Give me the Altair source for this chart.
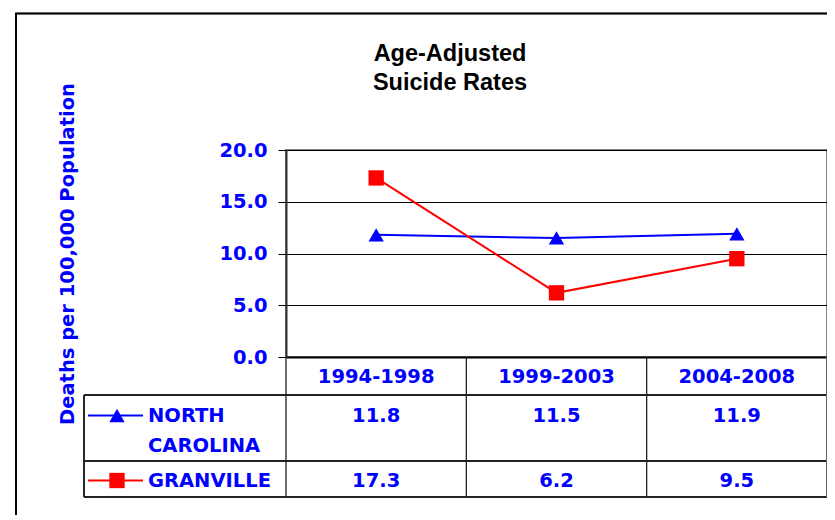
import altair as alt
import pandas as pd

periods = ["1994-1998", "1999-2003", "2004-2008"]
series = ["NORTH CAROLINA", "GRANVILLE"]
nc_values = [11.8, 11.5, 11.9]
granville_values = [17.3, 6.2, 9.5]
y_ticks = [0, 5, 10, 15, 20]
title_lines = ["Age-Adjusted", "Suicide Rates"]
y_title = "Deaths per 100,000 Population"

rows = []
for p, v in zip(periods, nc_values):
    rows.append({"period": p, "series": series[0], "value": v})
for p, v in zip(periods, granville_values):
    rows.append({"period": p, "series": series[1], "value": v})
df = pd.DataFrame(rows)
series_df = pd.DataFrame({"series": series})
period_df = pd.DataFrame({"period": periods})

BLUE = "#0000FF"
RED = "#FF0000"
FONT = "DejaVu Sans"
FS = 19.5
W, H = 541, 207

color_scale = alt.Scale(domain=series, range=[BLUE, RED])
shape_scale = alt.Scale(domain=series, range=["triangle-up", "square"])
x_scale = alt.Scale(domain=periods, paddingInner=0, paddingOuter=0)
y_scale = alt.Scale(domain=[0, 20], nice=False)

x_axis = alt.Axis(title=None, labelAngle=0, ticks=False, domain=True,
                  domainColor="#000000", domainWidth=2,
                  labelFont=FONT, labelFontSize=FS, labelFontWeight="bold",
                  labelColor=BLUE, labelPadding=10, grid=False)
y_axis = alt.Axis(values=y_ticks, format=".1f", title=y_title,
                  titleFont=FONT, titleFontSize=FS, titleFontWeight="bold",
                  titleColor=BLUE, titleAngle=-90, titleX=-213, titleY=H / 2,
                  titleBaseline="alphabetic", titleAlign="center",
                  labelFont=FONT, labelFontSize=FS, labelFontWeight="bold",
                  labelColor=BLUE, labelPadding=11,
                  tickSize=8, tickColor="#000000", tickWidth=1,
                  domainColor="#303030", domainWidth=2,
                  grid=True, gridColor="#000000", gridWidth=1)

base = alt.Chart(df)

lines = base.mark_line(strokeWidth=2).encode(
    x=alt.X("period:N", sort=periods, scale=x_scale, axis=x_axis),
    y=alt.Y("value:Q", scale=y_scale, axis=y_axis),
    color=alt.Color("series:N", scale=color_scale, legend=None),
)
points = base.mark_point(filled=True, opacity=1, size=235).encode(
    x=alt.X("period:N", sort=periods, scale=x_scale),
    y=alt.Y("value:Q", scale=y_scale),
    color=alt.Color("series:N", scale=color_scale, legend=None),
    shape=alt.Shape("series:N", scale=shape_scale, legend=None),
)

# table grid
LINE = "#202020"
hlines = []
for yy in [245, 311, 347]:
    hlines.append(alt.Chart(period_df).mark_rule(color=LINE, strokeWidth=1.3).encode(
        x=alt.value(-202), x2=alt.value(W), y=alt.value(yy)))
vsep = alt.Chart(period_df).mark_rule(color=LINE, strokeWidth=1.3).encode(
    x=alt.X("period:N", sort=periods, scale=x_scale, bandPosition=0),
    y=alt.value(H), y2=alt.value(347))
vright = alt.Chart(period_df).mark_rule(color="#606060", strokeWidth=2).encode(
    x=alt.value(W), y=alt.value(H), y2=alt.value(347))
vleft = alt.Chart(period_df).mark_rule(color=LINE, strokeWidth=1.3).encode(
    x=alt.value(-202), y=alt.value(245), y2=alt.value(347))

# table values
row_y = {series[0]: 265.5, series[1]: 330.5}
vals = []
for s in series:
    vals.append(alt.Chart(df).transform_filter(alt.datum.series == s).mark_text(
        font=FONT, fontSize=FS, fontWeight="bold", color=BLUE, baseline="middle").encode(
        x=alt.X("period:N", sort=periods, scale=x_scale),
        text=alt.Text("value:Q", format=".1f"),
        y=alt.value(row_y[s])))

# legend column in table
leg = []
for s in series:
    sd = alt.Chart(series_df).transform_filter(alt.datum.series == s)
    yy = row_y[s]
    leg.append(sd.mark_rule(strokeWidth=2).encode(
        x=alt.value(-198), x2=alt.value(-143), y=alt.value(yy),
        color=alt.Color("series:N", scale=color_scale, legend=None)))
    leg.append(sd.mark_point(filled=True, opacity=1, size=235).encode(
        x=alt.value(-169), y=alt.value(yy),
        color=alt.Color("series:N", scale=color_scale, legend=None),
        shape=alt.Shape("series:N", scale=shape_scale, legend=None)))
    leg.append(sd.mark_text(font=FONT, fontSize=FS, fontWeight="bold", color=BLUE,
                            align="left", baseline="middle", lineBreak=" ",
                            lineHeight=30).encode(
        x=alt.value(-138), y=alt.value(yy), text="series:N"))

# chart title as text
title_df = pd.DataFrame({"line": title_lines, "idx": [0, 1]})
titles = []
for i, yb in enumerate([-89.5, -60]):
    titles.append(alt.Chart(title_df).transform_filter(alt.datum.idx == i).mark_text(
        font="Liberation Sans", fontSize=23.5, fontWeight="bold", color="#000000",
        align="center", baseline="alphabetic").encode(
        x=alt.value(164), y=alt.value(yb), text="line:N"))

border = alt.Chart(period_df).mark_rect(filled=False, stroke="#000000", strokeWidth=1.5).encode(
    x=alt.value(-270), y=alt.value(-136.5), x2=alt.value(W + 60), y2=alt.value(420))

chart = alt.layer(
    border, lines, points, *hlines, vsep, vright, vleft, *vals, *leg, *titles
).properties(
    width=W, height=H,
    autosize=alt.AutoSizeParams(type="none"),
    padding={"left": 278, "top": 142, "right": 0, "bottom": 158},
).configure_view(stroke="#808080", strokeWidth=2)

chart.save("out.html", embed_options={"renderer": "svg", "actions": False})
